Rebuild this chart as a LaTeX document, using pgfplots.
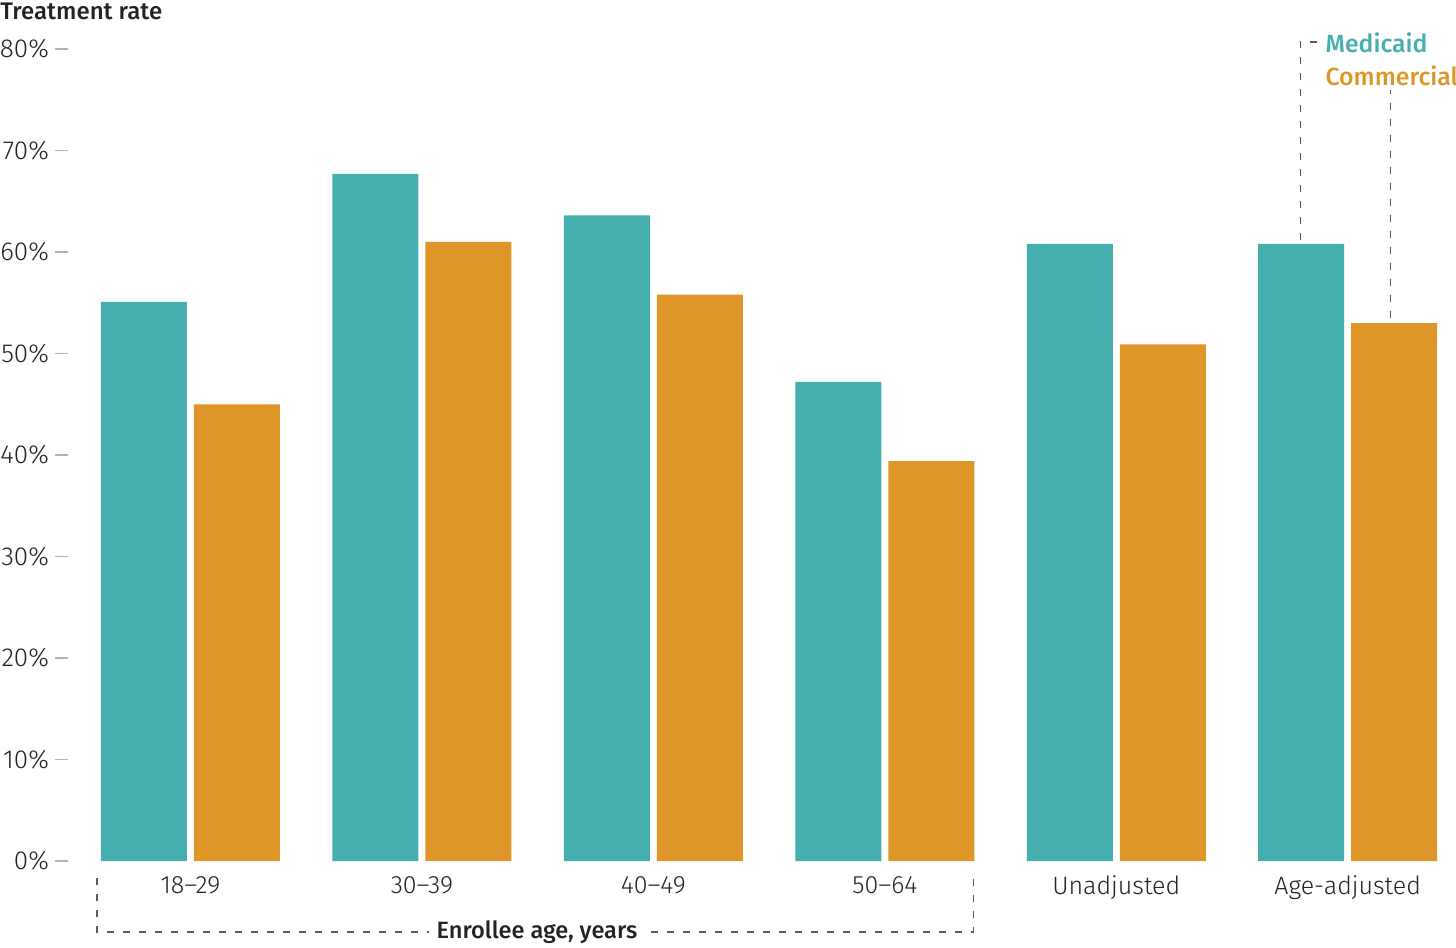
\documentclass[border=0pt]{standalone}
\usepackage{fontspec}
\setmainfont{Fira Sans Light}
\newfontfamily\medfont{Fira Sans Medium}
\usepackage{pgfplots}
\pgfplotsset{compat=1.18}
\definecolor{teal}{RGB}{69,175,175}
\definecolor{orng}{RGB}{222,150,40}
\definecolor{txt}{RGB}{35,35,35}
\definecolor{dashc}{RGB}{90,90,90}
\begin{document}
\begin{tikzpicture}
\begin{axis}[
  scale only axis,
  width=694pt, height=406pt,
  xmin=-0.5294, xmax=5.468,
  ymin=0, ymax=80,
  clip=false,
  ybar=3.5pt, bar width=43pt,
  axis x line*=bottom, axis y line*=left,
  x axis line style={draw=none}, y axis line style={draw=none},
  xtick=data,
  xticklabels={18--29,30--39,40--49,50--64,Unadjusted,Age-adjusted},
  major x tick style={draw=none},
  ytick={0,10,...,80},
  yticklabel={\pgfmathprintnumber{\tick}\%},
  /pgf/number format/assume math mode=true,
  tick align=outside,
  major tick length=6.5pt,
  ytick style={draw=gray!60, line width=0.6pt},
  ticklabel style={text=txt},
  yticklabel style={font=\fontsize{13}{16}\selectfont, xshift=0.5pt},
  xticklabel style={font=\fontsize{12.5}{16}\selectfont, yshift=2.5pt},
]
\addplot[fill=teal, draw=none] coordinates {(0,55.1) (1,67.7) (2,63.6) (3,47.2) (4,60.8) (5,60.8)};
\addplot[fill=orng, draw=none] coordinates {(0,45.0) (1,61.0) (2,55.8) (3,39.4) (4,50.9) (5,53.0)};
% title
\node[anchor=west, inner sep=0pt, text=txt, font=\medfont\fontsize{12}{16}\selectfont] at (axis cs:-0.823,83.75) {Treatment rate};
% legend leaders
\draw[dashc, line width=0.7pt, dash pattern=on 3.5pt off 4.5pt] (axis cs:4.795,61.2) -- (axis cs:4.795,80.7) -- (axis cs:4.882,80.7);
\draw[dashc, line width=0.7pt, dash pattern=on 3.5pt off 4.5pt] (axis cs:5.184,53.5) -- (axis cs:5.184,76.0);
\node[anchor=west, inner sep=0pt, text=teal, font=\medfont\fontsize{12.4}{16}\selectfont] at (axis cs:4.903,80.6) {Medicaid};
\node[anchor=west, inner sep=0pt, text=orng, font=\medfont\fontsize{12.4}{16}\selectfont] at (axis cs:4.903,77.4) {Commercial};
% bracket
\draw[dashc, line width=0.7pt, dash pattern=on 3.5pt off 4.5pt] (axis cs:-0.4045,-1.68) -- (axis cs:-0.4045,-7.0) -- (axis cs:3.382,-7.0) -- (axis cs:3.382,-1.68);
\node[fill=white, inner xsep=4pt, inner ysep=1pt, text=txt, font=\medfont\fontsize{11.8}{16}\selectfont] at (axis cs:1.497,-7.0) {Enrollee age, years};
\coordinate (bl) at (axis cs:-0.823,-8.473);
\coordinate (tr) at (axis cs:5.468,84.83);
\end{axis}
\pgfresetboundingbox
\path (bl) rectangle (tr);
\end{tikzpicture}
\end{document}
